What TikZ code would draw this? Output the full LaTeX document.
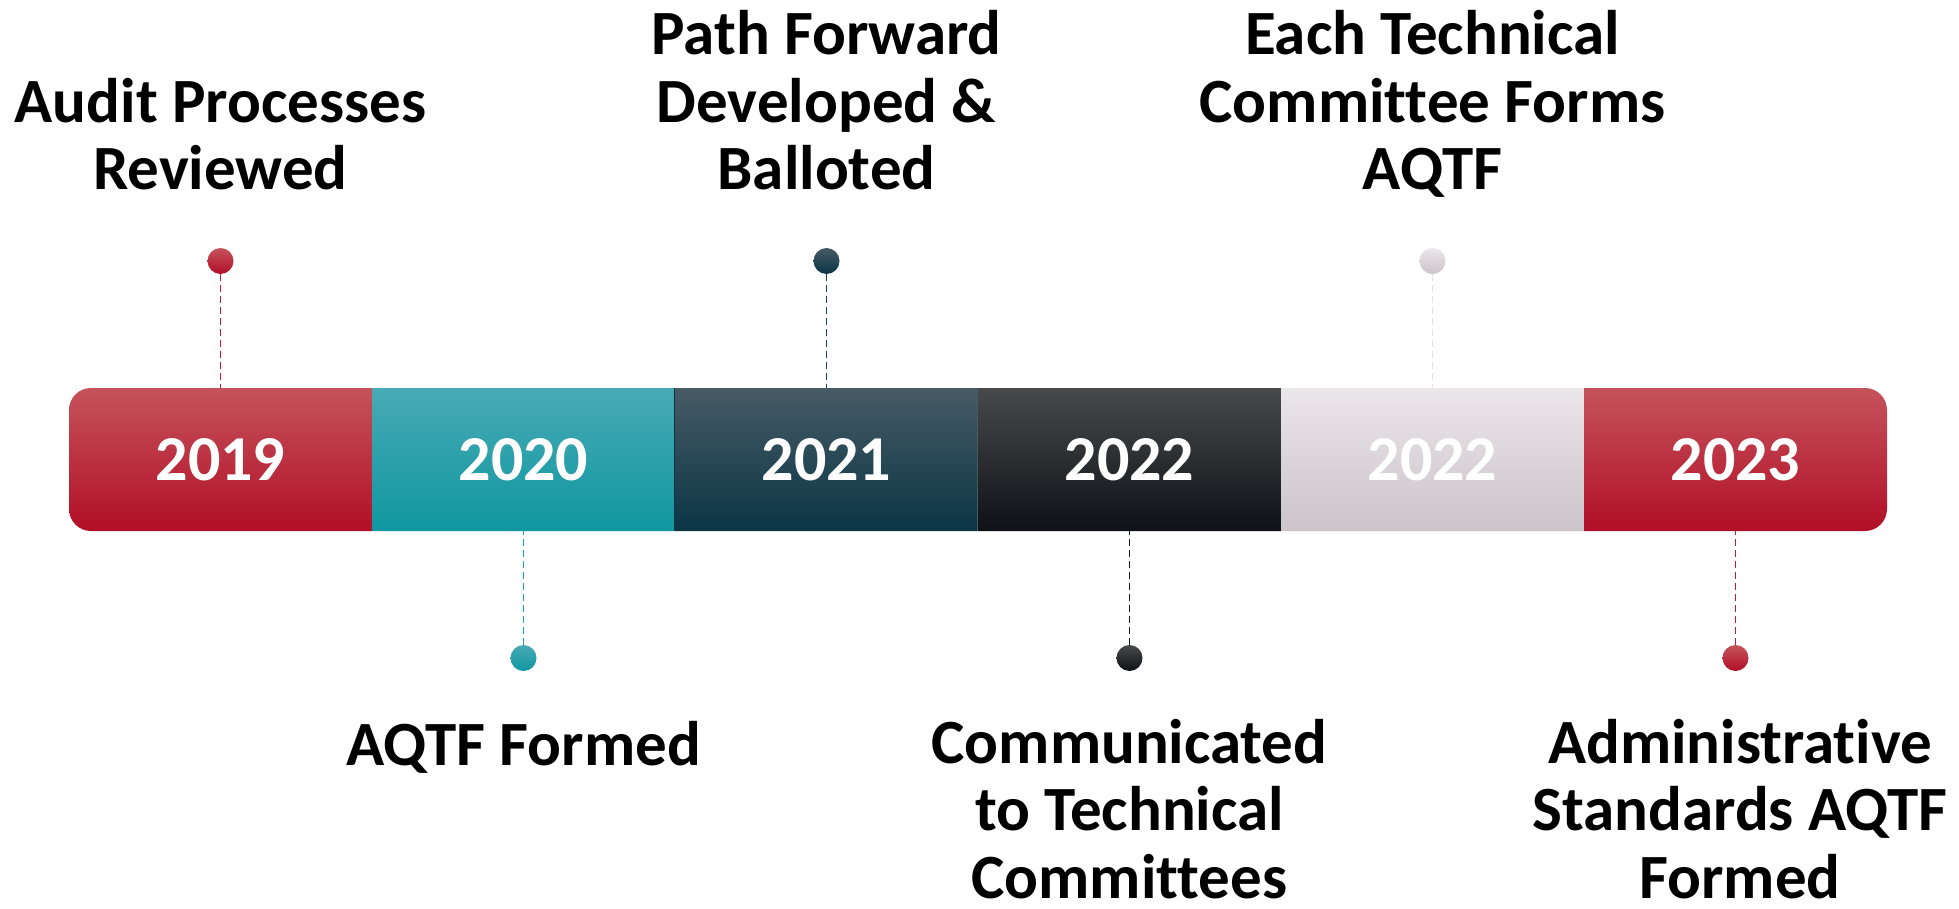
\documentclass[tikz,border=0pt]{standalone}
\usepackage{fontspec}
\setmainfont{Carlito}[Ligatures=NoCommon]
\definecolor{redT}{HTML}{C5535C}
\definecolor{redM}{HTML}{C01D33}
\definecolor{redB}{HTML}{B10F27}
\definecolor{tealT}{HTML}{48AAB4}
\definecolor{tealM}{HTML}{1AA4AE}
\definecolor{tealB}{HTML}{0F97A1}
\definecolor{dtealT}{HTML}{475B65}
\definecolor{dtealM}{HTML}{1B4553}
\definecolor{dtealB}{HTML}{0A3545}
\definecolor{blkT}{HTML}{48494B}
\definecolor{blkM}{HTML}{16191D}
\definecolor{blkB}{HTML}{0E1116}
\definecolor{grT}{HTML}{EBE6EA}
\definecolor{grM}{HTML}{E4DFE4}
\definecolor{grB}{HTML}{CBC4CA}
\tikzset{
  seg/.style={rectangle, minimum width=303pt, minimum height=143pt, inner sep=0pt,
    text=white, font=\bfseries\fontsize{64}{70}\selectfont},
  dotnode/.style={circle, minimum size=26pt, inner sep=0pt},
  leader/.style={line width=1.4pt, dash pattern=on 7pt off 4pt},
  lbl/.style={align=center, inner sep=0pt, anchor=base, text=black,
    font=\bfseries\fontsize{63}{67.5}\selectfont},
  redfill/.style={top color=redT, middle color=redM, bottom color=redB},
  tealfill/.style={top color=tealT, middle color=tealM, bottom color=tealB},
  dtealfill/.style={top color=dtealT, middle color=dtealM, bottom color=dtealB},
  blkfill/.style={top color=blkT, middle color=blkM, bottom color=blkB},
  grfill/.style={top color=grT, middle color=grM, bottom color=grB},
}
\begin{document}
\begin{tikzpicture}[x=1pt, y=-1pt]
\useasboundingbox (0,0) rectangle (1959,909);
\fill[white] (0,0) rectangle (1959,909);
% bar segments
\begin{scope}
\clip[rounded corners=22pt] (69,388) rectangle (1887,531);
\node[seg, redfill]   (s1) at (220.5,459.5)  {2019};
\node[seg, tealfill]  (s2) at (523.5,459.5)  {2020};
\node[seg, dtealfill] (s3) at (826.5,459.5)  {2021};
\node[seg, blkfill]   (s4) at (1129.5,459.5) {2022};
\node[seg, grfill]    (s5) at (1432.5,459.5) {2022};
\node[seg, redfill]   (s6) at (1735.5,459.5) {2023};
\end{scope}
\draw[dtealB, line width=1pt] (s3.north west) -- (s3.south west);
\draw[dtealT, line width=1pt] (s4.north west) -- (s4.south west);
% dots
\node[dotnode, redfill]   (d1) at (220.5,261)  {};
\node[dotnode, tealfill]  (d2) at (523.5,658)  {};
\node[dotnode, dtealfill] (d3) at (826.5,261)  {};
\node[dotnode, blkfill]   (d4) at (1129.5,658) {};
\node[dotnode, grfill]    (d5) at (1432.5,261) {};
\node[dotnode, redfill]   (d6) at (1735.5,658) {};
% leaders
\draw[leader, redM]   (d1.south) -- (s1.north);
\draw[leader, tealM]  (d2.north) -- (s2.south);
\draw[leader, dtealM] (d3.south) -- (s3.north);
\draw[leader, blkM]   (d4.north) -- (s4.south);
\draw[leader, grM]    (d5.south) -- (s5.north);
\draw[leader, redM]   (d6.north) -- (s6.south);
% labels (anchor base = baseline of the last line)
\node[lbl] (l1) at (220.5,190) {Audit Processes\\Reviewed};
\node[lbl] (l3) at (826.5,190) {Path Forward\\Developed \&\\Balloted};
\node[lbl] (l5) at (1432.5,190) {Each Technical\\Committee Forms\\AQTF};
\node[lbl] (l2) at (523.5,765) {AQTF Formed};
\node[lbl] (l4) at (1129.5,898) {Communicated\\to Technical\\Committees};
\node[lbl] (l6) at (1740,898) {Administrative\\Standards AQTF\\Formed};
\end{tikzpicture}
\end{document}
